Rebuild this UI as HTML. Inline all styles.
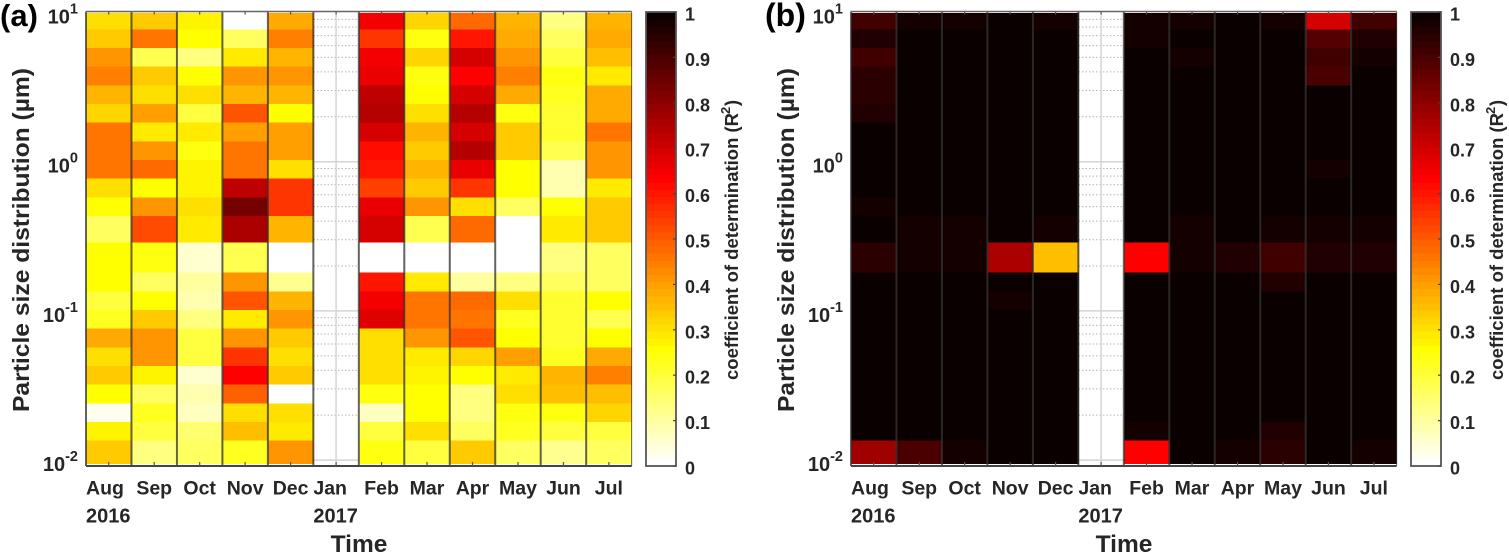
<!DOCTYPE html>
<html lang="en">
<head>
<meta charset="utf-8">
<title>Coefficient of determination heatmaps</title>
<style>
html,body{margin:0;padding:0;background:#fff;width:1509px;height:555px;overflow:hidden}
svg{display:block;font-family:"Liberation Sans",Arial,sans-serif}
text{fill:#262626;font-weight:bold}
</style>
</head>
<body>
<svg id="figure" xmlns="http://www.w3.org/2000/svg" width="1509" height="555" viewBox="0 0 1509 555"></svg>
<script>
// Categories
const months = ['Aug','Sep','Oct','Nov','Dec','Jan','Feb','Mar','Apr','May','Jun','Jul'];
const yearLabels = ['2016','','','','','2017','','','','','',''];
// Particle size bin edges (micrometres), top to bottom
const sizeEdges = [9.92,7.72,5.78,4.33,3.25,2.44,1.83,1.37,1.03,0.77,0.577,0.4326,0.2865,0.1803,0.1345,0.1014,0.076,0.057,0.0427,0.032,0.024,0.018,0.0135,0.00952];
// Tick labels
const decades = [1,0,-1,-2];
const minorMultipliers = [2,3,4,5,6,7,8,9];
const colorbarTicks = ['0','0.1','0.2','0.3','0.4','0.5','0.6','0.7','0.8','0.9','1'];

// Panel (a) R2 values, top row to bottom row
const aAug = [.31,.34,.42,.45,.37,.32,.46,.455,.455,.31,.265,.17,.26,.26,.19,.22,.38,.30,.34,.26,.02,.27,.34];
const aSep = [.34,.46,.18,.34,.31,.40,.29,.42,.47,.25,.41,.53,.24,.16,.25,.33,.42,.42,.27,.16,.23,.19,.13];
const aOct = [.28,.26,.14,.26,.30,.19,.29,.24,.28,.28,.31,.29,.05,.10,.08,.13,.19,.19,.06,.08,.07,.15,.17];
const aNov = [0,.17,.29,.41,.36,.50,.40,.46,.46,.73,.83,.75,.18,.42,.50,.29,.42,.55,.625,.49,.31,.35,.23];
const aDec = [.39,.45,.37,.41,.37,.25,.40,.40,.31,.56,.56,.37,0,.12,.36,.42,.34,.30,.34,0,.31,.29,.41];
const aJan = [];
const aFeb = [.65,.56,.65,.66,.72,.74,.69,.62,.60,.54,.67,.70,0,.60,.655,.68,.31,.30,.30,.24,.07,.19,.235];
const aMar = [.32,.24,.32,.245,.25,.30,.36,.33,.37,.33,.41,.18,0,.29,.46,.46,.41,.29,.275,.26,.25,.31,.19];
const aApr = [.47,.60,.70,.625,.70,.74,.70,.74,.66,.56,.30,.47,0,.10,.48,.46,.50,.32,.25,.14,.14,.17,.34];
const aMay = [.37,.38,.41,.44,.38,.245,.34,.33,.25,.25,.17,0,0,.13,.31,.23,.25,.40,.29,.31,.24,.23,.17];
const aJun = [.14,.17,.19,.24,.22,.21,.21,.18,.09,.08,.25,.29,.14,.16,.21,.21,.21,.23,.37,.35,.24,.20,.12];
const aJul = [.37,.38,.35,.29,.39,.39,.46,.41,.41,.29,.34,.33,.16,.16,.25,.18,.25,.38,.45,.35,.32,.19,.16];

// Panel (b) R2 values, top row to bottom row
const bAug = [.91,.96,.91,.94,.94,.96,.99,.99,.99,.99,.97,.99,.94,.99,.99,.99,.99,.99,.99,.99,.99,.99,.77];
const bSep = [.97,.99,.99,.99,.99,.99,.99,.99,.99,.99,.99,.97,.97,.99,.99,.99,.99,.99,.99,.99,.99,.99,.90];
const bOct = [.97,.99,.99,.99,.99,.99,.99,.99,.99,.99,.99,.97,.97,.99,.99,.99,.99,.99,.99,.99,.99,.99,.97];
const bNov = [.99,.99,.99,.99,.99,.99,.99,.99,.99,.99,.99,.99,.75,.99,.97,.99,.99,.99,.99,.99,.99,.99,.99];
const bDec = [.97,.99,.99,.99,.99,.99,.99,.99,.99,.99,.99,.97,.345,.99,.99,.99,.99,.99,.99,.99,.99,.99,.99];
const bJan = [];
const bFeb = [.97,.97,.99,.99,.99,.99,.99,.99,.99,.99,.99,.99,.63,.99,.99,.99,.99,.99,.99,.99,.99,.97,.63];
const bMar = [.97,.99,.97,.99,.99,.99,.99,.99,.99,.99,.99,.97,.97,.99,.99,.99,.99,.99,.99,.99,.99,.99,.99];
const bApr = [.99,.99,.99,.99,.99,.99,.99,.99,.99,.99,.99,.99,.96,.99,.99,.99,.99,.99,.99,.99,.99,.99,.97];
const bMay = [.97,.99,.99,.99,.99,.99,.99,.99,.99,.99,.99,.97,.91,.96,.99,.99,.99,.99,.99,.99,.99,.96,.94];
const bJun = [.70,.89,.91,.90,.99,.99,.99,.99,.97,.99,.99,.97,.96,.99,.99,.99,.99,.99,.99,.99,.99,.99,.99];
const bJul = [.92,.96,.97,.99,.99,.99,.99,.99,.99,.99,.99,.97,.96,.99,.99,.99,.99,.99,.99,.99,.99,.99,.97];

const panelAValues = [aAug,aSep,aOct,aNov,aDec,aJan,aFeb,aMar,aApr,aMay,aJun,aJul];
const panelBValues = [bAug,bSep,bOct,bNov,bDec,bJan,bFeb,bMar,bApr,bMay,bJun,bJul];

const svg = document.getElementById('figure');
const NS = 'http://www.w3.org/2000/svg';
const AX_LEFT = 86, AX_TOP = 11.5, AX_BOTTOM = 466, BAND = 45.47;
const CB_LEFT = 646, CB_WIDTH = 30;

function yOfSize(size){ return 161.7 - Math.log10(size) * 149.2; }
function yOfR2(v){ return 466 - v * 454; }
function xOfBand(i, off){ return off + AX_LEFT + i * BAND; }

// Inverted MATLAB "hot" colormap, 64 levels
function colorOf(v){
  const idx = Math.max(0, Math.min(63, Math.floor(v * 64)));
  const k = 64 - idx;
  const clip = x => Math.max(0, Math.min(1, x));
  const r = Math.round(255 * clip(k / 24));
  const g = Math.round(255 * clip((k - 24) / 24));
  const b = Math.round(255 * clip((k - 48) / 16));
  return 'rgb(' + r + ',' + g + ',' + b + ')';
}

function make(tag, attrs, parent, txt){
  const n = document.createElementNS(NS, tag);
  for (const key in attrs) n.setAttribute(key, attrs[key]);
  if (txt !== undefined) n.textContent = txt;
  parent.appendChild(n);
  return n;
}

function drawPanel(prefix, letter, values, off, letterX, letterSize){
  const g = make('g', {}, svg);
  
  

  const label = make('text', {x: letterX, y: 26, 'font-size': letterSize, style: 'fill:#000'}, g, '(' + letter + ')');
  
  

  // Gridlines, visible only in the empty column
  const grid = make('g', {}, g);
  
  
  const x0 = off + AX_LEFT, x1 = off + AX_LEFT + 12 * BAND;
  decades.forEach(d => {
    if (d < 1) {
      make('line', {x1: x0, x2: x1, y1: yOfSize(Math.pow(10, d)), y2: yOfSize(Math.pow(10, d)), stroke: '#d4d4d4', 'stroke-width': 1.5}, grid);
      minorMultipliers.forEach(m => {
        const y = yOfSize(m * Math.pow(10, d));
        make('line', {x1: x0, x2: x1, y1: y, y2: y, stroke: '#b4b4b4', 'stroke-width': 1, 'stroke-dasharray': '1.5 2'}, grid);
      });
    }
  });
  months.forEach((m, i) => {
    const x = xOfBand(i + 0.5, off);
    make('line', {x1: x, x2: x, y1: AX_TOP, y2: AX_BOTTOM, stroke: '#d4d4d4', 'stroke-width': 1.5}, grid);
  });

  // Heatmap cells
  const cells = make('g', {'shape-rendering': 'crispEdges'}, g);
  
  
  values.forEach((col, i) => {
    col.forEach((v, r) => {
      const top = yOfSize(sizeEdges[r]), bottom = yOfSize(sizeEdges[r + 1]);
      const cell = make('rect', {x: xOfBand(i, off), y: top, width: BAND + 0.5, height: bottom - top + 0.5, fill: colorOf(v)}, cells);
      
      
    });
  });

  // Month separators
  const seps = make('g', {}, g);
  
  
  for (let i = 0; i <= 12; i++) {
    const x = xOfBand(i, off);
    make('line', {x1: x, x2: x, y1: AX_TOP, y2: AX_BOTTOM, stroke: 'rgba(52,52,52,.77)', 'stroke-width': i === 12 ? 1 : 2}, seps);
  }

  // Axis frame and ticks
  const axis = make('g', {}, g);
  
  
  make('line', {x1: x0, x2: x1, y1: AX_TOP, y2: AX_TOP, stroke: '#666', 'stroke-width': 1.6}, axis);
  make('line', {x1: x0, x2: x1, y1: AX_BOTTOM, y2: AX_BOTTOM, stroke: '#444', 'stroke-width': 2}, axis);
  months.forEach((m, i) => {
    const x = xOfBand(i + 0.5, off);
    make('line', {x1: x, x2: x, y1: AX_BOTTOM, y2: AX_BOTTOM - 4, stroke: '#555', 'stroke-width': 1.2}, axis);
    make('line', {x1: x, x2: x, y1: AX_TOP, y2: AX_TOP + 3, stroke: '#555', 'stroke-width': 1.2}, axis);
  });

  // Month and year tick labels
  months.forEach((m, i) => {
    const hasYear = yearLabels[i] !== '';
    const x = hasYear ? xOfBand(i, off) : xOfBand(i + 0.5, off);
    const t = make('text', {x: x, y: 494.5, 'font-size': 19.5, 'text-anchor': hasYear ? 'start' : 'middle'}, g, m);
    
    
    if (hasYear) {
      const yr = make('text', {x: x, y: 522.5, 'font-size': 20}, g, yearLabels[i]);
      
      
    }
  });

  // Y tick labels
  decades.forEach(d => {
    const t = make('text', {x: off + 78, y: yOfSize(Math.pow(10, d)) + 11, 'font-size': 20, 'text-anchor': 'end'}, g);
    
    
    make('tspan', {}, t, '10');
    make('tspan', {dy: -10, 'font-size': 14.5}, t, String(d));
  });

  // Axis titles
  const yTitle = make('text', {transform: 'translate(' + (off + 29) + ',240) rotate(-90)', 'font-size': 23.5, 'text-anchor': 'middle', textLength: 344, lengthAdjust: 'spacingAndGlyphs'}, g, 'Particle size distribution (µm)');
  
  
  const xTitle = make('text', {x: off + 359, y: 552, 'font-size': 24.5, 'text-anchor': 'middle'}, g, 'Time');
  
  

  // Colorbar
  const cb = make('g', {}, g);
  
  
  const cbx = off + CB_LEFT;
  const ramp = make('g', {'shape-rendering': 'crispEdges'}, cb);
  for (let i = 0; i < 64; i++) {
    const y0 = yOfR2((i + 1) / 64), y1 = yOfR2(i / 64);
    make('rect', {x: cbx, y: y0, width: CB_WIDTH, height: y1 - y0 + 0.5, fill: colorOf((i + 0.5) / 64)}, ramp);
  }
  make('rect', {x: cbx, y: yOfR2(1), width: CB_WIDTH, height: yOfR2(0) - yOfR2(1), fill: 'none', stroke: '#555', 'stroke-width': 1.8}, cb);
  colorbarTicks.forEach(v => {
    const y = yOfR2(parseFloat(v));
    make('line', {x1: cbx + CB_WIDTH - 3, x2: cbx + CB_WIDTH, y1: y, y2: y, stroke: '#444', 'stroke-width': 1.2}, cb);
    const t = make('text', {x: cbx + 39, y: y + 8.5, 'font-size': 18}, cb, v);
    
    
  });

  // Colorbar title
  const lx = off + 738;
  const cbTitle = make('text', {transform: 'translate(' + lx + ',380) rotate(-90)', 'font-size': 18, textLength: 267, lengthAdjust: 'spacingAndGlyphs'}, g, 'coefficient of determination (R');
  
  
  const cbSup = make('text', {transform: 'translate(' + (lx - 8) + ',114) rotate(-90)', 'font-size': 13}, g, '2');
  
  
  const cbClose = make('text', {transform: 'translate(' + lx + ',106) rotate(-90)', 'font-size': 18}, g, ')');
  
  
}

drawPanel('a', 'a', panelAValues, 0, 0, 31);
drawPanel('b', 'b', panelBValues, 765, 765, 32);
</script>
</body>
</html>
